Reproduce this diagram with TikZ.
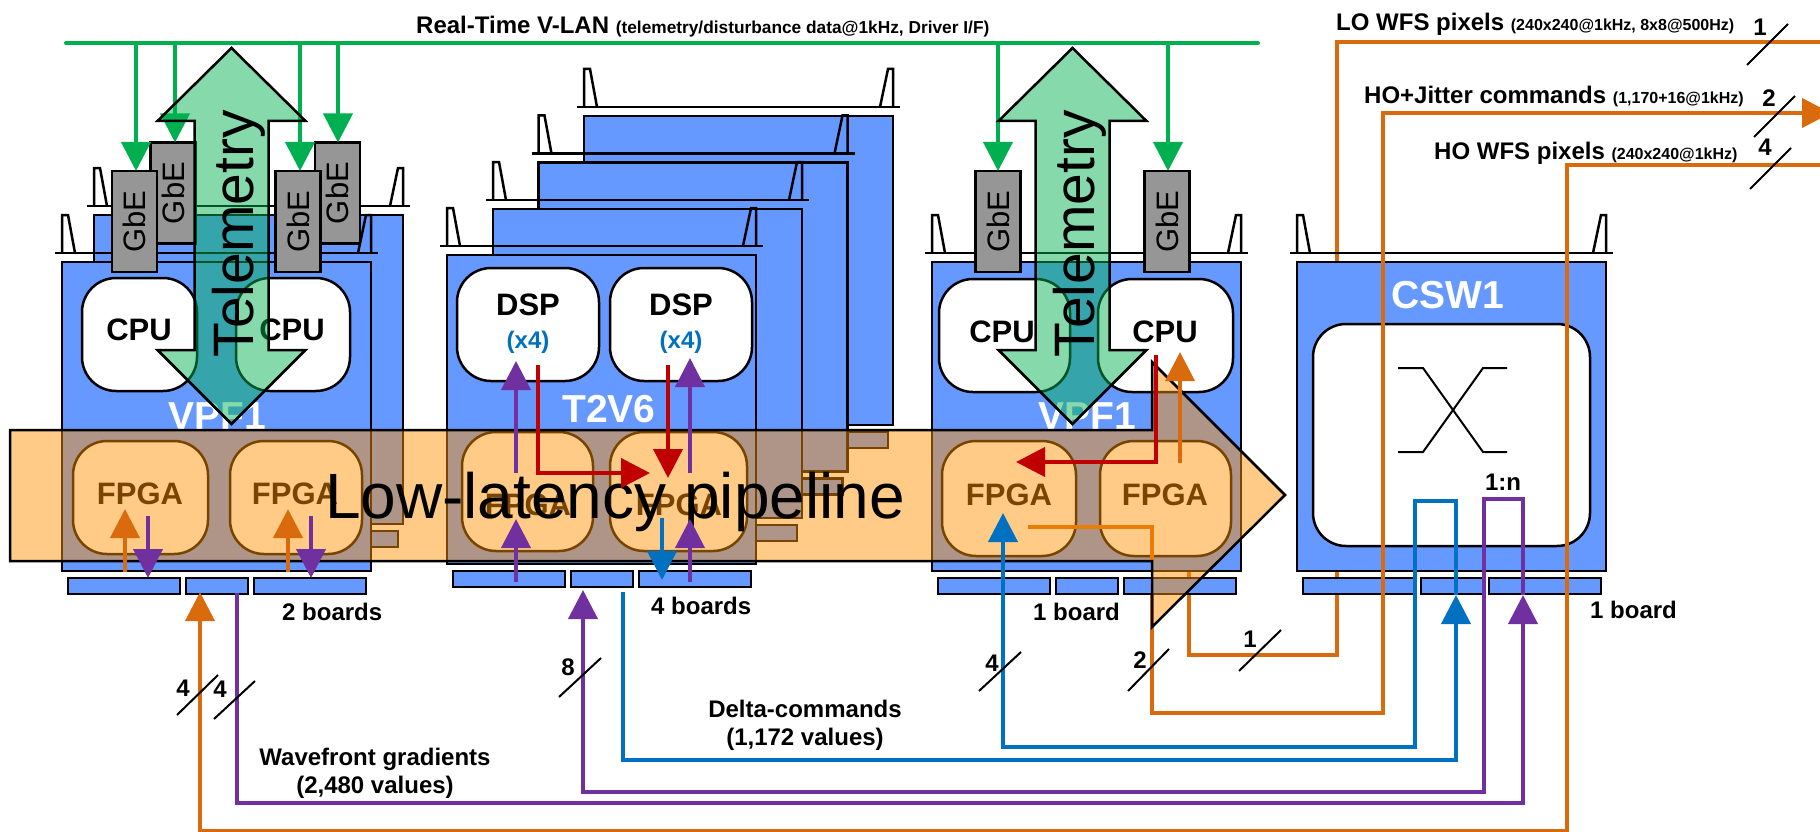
\documentclass[tikz,border=0pt]{standalone}
\usepackage{fontspec}
\setmainfont{Liberation Sans}
\usepackage{tikz}
\usetikzlibrary{arrows.meta}
\definecolor{cardblue}{HTML}{6699FF}
\definecolor{gbegray}{HTML}{969696}
\definecolor{linkgreen}{HTML}{00B050}
\definecolor{linkorange}{HTML}{D96B0C}
\definecolor{linkpurple}{HTML}{7030A0}
\definecolor{linkblue}{HTML}{0070C0}
\definecolor{linkred}{HTML}{C00000}
\definecolor{pipeorange}{RGB}{255,146,0}
\newcommand{\tinytxt}{\fontsize{16}{18}\selectfont}
\tikzset{
  cardbody/.style={draw=black,line width=2.5pt,fill=cardblue,inner sep=0pt,outer sep=0pt,minimum width=309pt,minimum height=309pt},
  cardslot/.style={draw=black,line width=2.5pt,fill=cardblue,inner sep=0pt,outer sep=0pt,minimum height=16pt},
  cardear/.style={draw=black,line width=2.5pt},
  chipbox/.style={draw=black,line width=2.5pt,fill=white,rounded corners=34pt,inner sep=0pt,outer sep=0pt},
  chiptext/.style={inner sep=0pt,font=\fontsize{31}{36}\selectfont\bfseries},
  gbebox/.style={draw=black,line width=2.5pt,fill=gbegray,inner sep=0pt,outer sep=0pt,minimum width=45pt,minimum height=101pt},
  gbetext/.style={rotate=90,font=\fontsize{31}{34}\selectfont},
  cardname/.style={text=white,inner sep=0pt,anchor=base,font=\fontsize{39}{42}\selectfont\bfseries},
  lbl/.style={inner sep=0pt,font=\fontsize{24}{28}\selectfont\bfseries},
  slashline/.style={draw=black,line width=2pt},
  telemarrow/.style={draw=black,line width=2.5pt,fill=linkgreen,fill opacity=.48},
  bigtext/.style={inner sep=0pt,anchor=base},
  link/.style={line width=4pt},
  arrowlink/.style={line width=4pt,-{Triangle[length=29pt,width=29pt]}},
}
\newcommand{\vmecard}[3]{
  \begin{scope}[shift={(#2,#3)}]
    \draw[cardear] (0,-9) -- (0,-47) -- (6,-47) -- (13,-9);
    \draw[cardear] (296,-9) -- (304,-47) -- (309,-47) -- (309,-9);
    \draw[cardear] (-7,-9) -- (316,-9);
    \node[cardbody] (#1) at (154.5,154.5) {};
    \node[cardslot,minimum width=112pt] (#1a) at (62,324) {};
    \node[cardslot,minimum width=62pt] (#1b) at (155,324) {};
    \node[cardslot,minimum width=112pt] (#1c) at (248,324) {};
  \end{scope}
}
\newcommand{\telemetry}[2]{
  \begin{scope}[shift={(#1,0)}]
    \path[telemarrow] (0,48) -- (74,121) -- (37,121) -- (37,350) -- (74,350) -- (0,424) -- (-74,350) -- (-37,350) -- (-37,121) -- (-74,121) -- cycle;
    \node[bigtext,rotate=90,font=\fontsize{57}{60}\selectfont] (#2) at (22,234) {Telemetry};
  \end{scope}
}
\begin{document}
\begin{tikzpicture}[x=1pt,y=-1pt]
\clip (0,0) rectangle (1820,832);
\fill[white] (0,0) rectangle (1820,832);

\coordinate (loStart) at (1189,560);
\coordinate (loBend) at (1337,655);
\coordinate (loEnd) at (1820,42);
\draw[link,linkorange] (loStart) |- (loBend) |- (loEnd);

\vmecard{csw}{1297}{262}
\node[cardname] (cswName) at (1448,308) {CSW1};
\node[draw=black,line width=2.5pt,fill=white,rounded corners=33pt,inner sep=0pt,minimum width=277pt,minimum height=222pt] (cswCore) at (1451.5,435) {};
\draw[line width=2pt] (1398,368) -- (1423,368) -- (1483,452) -- (1507,452);
\draw[line width=2pt] (1398,452) -- (1423,452) -- (1483,368) -- (1507,368);

\coordinate (hoStart) at (1152,590);
\coordinate (hoBend) at (1383,713);
\coordinate (hoEnd) at (1831,113);
\draw[arrowlink,linkorange] (hoStart) |- (hoBend) |- (hoEnd);

\vmecard{vpfBack}{94}{215}
\vmecard{vpfA}{62}{262}
\node[cardname] (vpfAName) at (217,429) {VPF1};
\foreach \n/\x/\y in {3/584/116,2/538.5/162.5,1/493/209} {
  \vmecard{tvBack\n}{\x}{\y}
}
\vmecard{tv}{447}{255}
\node[cardname] (tvName) at (609,422) {T2V6};
\vmecard{vpfB}{932}{262}
\node[cardname] (vpfBName) at (1087,429) {VPF1};

\node[chipbox,minimum width=115pt,minimum height=113pt] (cpuA) at (139.5,334.5) {};
\node[chiptext] (cpuAText) at (139,330) {CPU};
\node[chipbox,minimum width=114pt,minimum height=113pt] (cpuB) at (293,334.5) {};
\node[chiptext] (cpuBText) at (292,330) {CPU};
\node[chipbox,minimum width=135pt,minimum height=113pt] (fpgaA) at (140.5,497.5) {};
\node[chiptext] (fpgaAText) at (140,494) {FPGA};
\node[chipbox,minimum width=132pt,minimum height=113pt] (fpgaB) at (296,497.5) {};
\node[chiptext] (fpgaBText) at (295,494) {FPGA};
\node[chipbox,minimum width=142pt,minimum height=113pt] (dspA) at (528,324.5) {};
\node[chiptext] (dspAText) at (528,305) {DSP};
\node[chipbox,minimum width=142pt,minimum height=113pt] (dspB) at (681,324.5) {};
\node[chiptext] (dspBText) at (681,305) {DSP};
\node[chiptext,text=linkblue,font=\fontsize{24}{26}\selectfont\bfseries] (dspAMult) at (528,342) {(x4)};
\node[chiptext,text=linkblue,font=\fontsize{24}{26}\selectfont\bfseries] (dspBMult) at (681,342) {(x4)};
\node[chipbox,minimum width=131pt,minimum height=119pt] (fpgaC) at (527.5,491.5) {};
\node[chiptext] (fpgaCText) at (528,505) {FPGA};
\node[chipbox,minimum width=137pt,minimum height=119pt] (fpgaD) at (678.5,491.5) {};
\node[chiptext] (fpgaDText) at (679,505) {FPGA};
\node[chipbox,minimum width=131pt,minimum height=113pt] (cpuC) at (1004.5,335.5) {};
\node[chiptext] (cpuCText) at (1002,332) {CPU};
\node[chipbox,minimum width=135pt,minimum height=113pt] (cpuD) at (1165.5,335.5) {};
\node[chiptext] (cpuDText) at (1165,332) {CPU};
\node[chipbox,minimum width=134pt,minimum height=115pt] (fpgaE) at (1009,498.5) {};
\node[chiptext] (fpgaEText) at (1009,495) {FPGA};
\node[chipbox,minimum width=131pt,minimum height=115pt] (fpgaF) at (1165.5,498.5) {};
\node[chiptext] (fpgaFText) at (1165,495) {FPGA};

\node[gbebox] (gbeB) at (173,193) {};
\node[gbetext] at (gbeB) {GbE};
\node[gbebox] (gbeA) at (134.5,221.5) {};
\node[gbetext] at (gbeA) {GbE};
\node[gbebox] (gbeD) at (337.5,193) {};
\node[gbetext] at (gbeD) {GbE};
\node[gbebox] (gbeC) at (298,221.5) {};
\node[gbetext] at (gbeC) {GbE};
\node[gbebox] (gbeE) at (998,221.5) {};
\node[gbetext] at (gbeE) {GbE};
\node[gbebox] (gbeF) at (1167,221.5) {};
\node[gbetext] at (gbeF) {GbE};

\coordinate (lanLeft) at (66,43);
\coordinate (lanRight) at (1258,43);
\draw[link,linkgreen,line cap=round] (lanLeft) -- (lanRight);
\foreach \x/\t in {136/gbeA,175/gbeB,300/gbeC,338/gbeD,998/gbeE,1168/gbeF} {
  \draw[arrowlink,linkgreen] (\x,43) -- (\x,43 |- \t.north);
}

\telemetry{231.5}{telemA}
\telemetry{1072.5}{telemB}

\coordinate (fbStart) at (1028,527);
\coordinate (fbEnd) at (1152,561);
\draw[link,linkorange] (fbStart) -| (fbEnd);

\draw[line width=2.5pt,fill=pipeorange,fill opacity=.47] (10,430) -- (1152,430) -- (1152,362) -- (1285,495) -- (1152,627) -- (1152,561) -- (10,561) -- cycle;
\node[bigtext,font=\fontsize{64}{66}\selectfont] (pipeName) at (615,518) {Low-latency pipeline};

\foreach \x in {125,288} {
  \draw[arrowlink,linkorange] (\x,572) -- (\x,509);
}
\foreach \x in {148,311} {
  \draw[arrowlink,linkpurple] (\x,516) -- (\x,578);
}

\foreach \x/\t in {516/361,690/358} {
  \draw[arrowlink,linkpurple] (\x,582) -- (\x,519);
  \draw[arrowlink,linkpurple] (\x,473) -- (\x,\t);
}
\coordinate (redA) at (538,365);
\coordinate (redAEnd) at (650,473);
\draw[arrowlink,linkred] (redA) |- (redAEnd);
\coordinate (redB) at (668,365);
\coordinate (redBEnd) at (668,478);
\draw[arrowlink,linkred] (redB) -- (redBEnd);
\coordinate (blueDown) at (662,518);
\coordinate (blueDownEnd) at (662,580);
\draw[arrowlink,linkblue] (blueDown) -- (blueDownEnd);
\coordinate (redC) at (1156,355);
\coordinate (redCEnd) at (1016,462);
\draw[arrowlink,linkred] (redC) |- (redCEnd);
\coordinate (upOrange) at (1180,463);
\coordinate (upOrangeEnd) at (1180,352);
\draw[arrowlink,linkorange] (upOrange) -- (upOrangeEnd);

\coordinate (swBlueIn) at (1456,595);
\coordinate (swBlueTop) at (1415,501);
\coordinate (blueBot) at (1003,747);
\coordinate (blueTip) at (1003,513);
\draw[arrowlink,linkblue] (swBlueIn) |- (swBlueTop) |- (blueBot) -- (blueTip);
\coordinate (deltaStart) at (623,592);
\coordinate (deltaBend) at (1456,760);
\draw[arrowlink,linkblue] (deltaStart) |- (deltaBend) -- (swBlueIn);

\coordinate (swPurpleIn) at (1523,595);
\coordinate (swPurpleTop) at (1484,499);
\coordinate (purpleBot) at (583,792);
\coordinate (purpleTip) at (583,590);
\draw[arrowlink,linkpurple] (swPurpleIn) |- (swPurpleTop) |- (purpleBot) -- (purpleTip);
\coordinate (gradStart) at (237,593);
\coordinate (gradBend) at (1523,803);
\draw[arrowlink,linkpurple] (gradStart) |- (gradBend) -- (swPurpleIn);

\coordinate (hoInStart) at (1820,165);
\coordinate (hoInBend) at (1567,165);
\coordinate (hoInBot) at (200,831);
\coordinate (hoInTip) at (200,592);
\draw[arrowlink,linkorange] (hoInStart) -- (hoInBend) |- (hoInBot) -- (hoInTip);

\draw[slashline] (177,715) -- (218,675);
\draw[slashline] (214,719) -- (255,681);
\draw[slashline] (559,697) -- (601,658);
\draw[slashline] (979,691) -- (1021,652);
\draw[slashline] (1128,691) -- (1169,649);
\draw[slashline] (1239,671) -- (1281,630);
\draw[slashline] (1747,65) -- (1788,24);
\draw[slashline] (1754,137) -- (1795,96);
\draw[slashline] (1750,189) -- (1791,148);

\node[lbl] (numA) at (183,688) {4};
\node[lbl] (numB) at (220,689) {4};
\node[lbl] (numC) at (568,667) {8};
\node[lbl] (numD) at (992,663) {4};
\node[lbl] (numE) at (1140,660) {2};
\node[lbl] (numF) at (1250,639) {1};
\node[lbl] (numG) at (1760,27) {1};
\node[lbl] (numH) at (1769,98) {2};
\node[lbl] (numI) at (1765,147) {4};

\node[lbl,anchor=base west] (lanText) at (416,34) {Real-Time V-LAN {\fontsize{17.3}{18}\selectfont(telemetry/disturbance data@1kHz, Driver I/F)}};
\node[lbl,anchor=base west] (loText) at (1336,31) {LO WFS pixels {\tinytxt(240x240@1kHz, 8x8@500Hz)}};
\node[lbl,anchor=base west] (hoCmdText) at (1364,104) {HO+Jitter commands {\tinytxt(1,170+16@1kHz)}};
\node[lbl,anchor=base west] (hoWfsText) at (1434,159) {HO WFS pixels {\tinytxt(240x240@1kHz)}};
\node[lbl,anchor=base west] (boardsA) at (282,620) {2 boards};
\node[lbl,anchor=base west] (boardsB) at (651,614) {4 boards};
\node[lbl,anchor=base west] (boardsC) at (1033,620) {1 board};
\node[lbl,anchor=base west] (boardsD) at (1590,618) {1 board};
\node[lbl,align=center] (gradText) at (375,773) {Wavefront gradients\\(2,480 values)};
\node[lbl,align=center] (deltaText) at (805,725) {Delta-commands\\(1,172 values)};
\node[lbl] (oneToN) at (1503,482) {1:n};
\end{tikzpicture}
\end{document}
